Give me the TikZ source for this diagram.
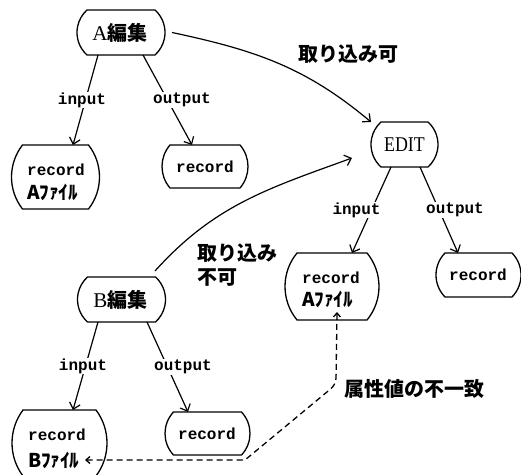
\documentclass[tikz,border=0pt]{standalone}
\usepackage{fontspec}
\usepackage{graphicx}
\setmainfont{Liberation Serif}
\newfontfamily\monof{Liberation Mono}
\newfontfamily\jpf{Noto Sans CJK JP}
\usetikzlibrary{arrows.meta}
\tikzset{
 boxarea/.style={draw=none, inner sep=0pt, outer sep=0pt},
 boxline/.style={line width=1.3pt},
 monotxt/.style={font=\monof\bfseries\fontsize{16}{18}\selectfont, inner sep=0pt},
 hwtxt/.style={font=\jpf\bfseries\fontsize{19}{21}\selectfont, inner sep=0pt},
 jptxt/.style={font=\jpf\bfseries\fontsize{20}{24}\selectfont, inner sep=0pt},
 edgelab/.style={monotxt, fill=white, inner sep=1pt},
 conn/.style={line width=1.2pt, -{Straight Barb[length=6pt,width=11pt]}},
 dconn/.style={line width=1.3pt, dash pattern=on 6pt off 4pt,
   {Straight Barb[length=4pt,width=7pt]}-{Straight Barb[length=4pt,width=7pt]}, rounded corners=3pt},
}
\newcommand\bulgebox[6]{%
  \pgfmathsetmacro\bbR{(#5*#5+#6*#6)/(2*#6)}%
  \pgfmathsetmacro\bbT{asin(#5/\bbR)}%
  \node[boxarea, minimum width={2*(#4+#6)}, minimum height={2*#5}] (#1) at (#2,#3) {};
  \draw[boxline] (#2-#4,#3+#5) -- (#2+#4,#3+#5)
     arc[start angle=\bbT, end angle=-\bbT, radius=\bbR]
     -- (#2-#4,#3-#5)
     arc[start angle=180+\bbT, end angle=180-\bbT, radius=\bbR] -- cycle;
}
\begin{document}
\begin{tikzpicture}[x=1pt,y=1pt]
\fill[white] (0,0) rectangle (521,474);
\useasboundingbox (0,0) rectangle (521,474);

% boxes
\bulgebox{na}{121}{441.5}{34}{22.5}{10}
\node[jptxt] (na1) at (120,441) {{\rmfamily\mdseries\fontsize{21}{22}\selectfont A}編集};

\bulgebox{ra}{55.5}{297}{33}{32}{11}
\node[monotxt, anchor=west] (ra1) at (27,304) {record};
\node[hwtxt, anchor=west] (ra2) at (27,282) {Aﾌｧｲﾙ};

\bulgebox{rao}{205}{307.5}{35}{21.5}{8}
\node[monotxt] (rao1) at (205,307) {record};

\bulgebox{edit}{404.5}{329.5}{23.5}{22.5}{10}
\node[inner sep=0pt, font=\fontsize{21}{22}\selectfont] (edit1) at (404.5,329.5) {\scalebox{0.85}[1]{EDIT}};

\bulgebox{rei}{332}{187.5}{35}{33.5}{12}
\node[monotxt, anchor=west] (rei1) at (302,196) {record};
\node[hwtxt, anchor=west] (rei2) at (302,175) {Aﾌｧｲﾙ};

\bulgebox{reo}{478.5}{199}{33.5}{22}{9}
\node[monotxt] (reo1) at (478,199) {record};

\bulgebox{nb}{121.5}{174.5}{34}{22.5}{10}
\node[jptxt] (nb1) at (120.5,174) {{\rmfamily\mdseries\fontsize{21}{22}\selectfont B}編集};

\bulgebox{rb}{59.5}{31}{36.5}{33}{11}
\node[monotxt, anchor=west] (rb1) at (28,39) {record};
\node[hwtxt, anchor=west] (rb2) at (28,14) {Bﾌｧｲﾙ};

\bulgebox{rbo}{207.5}{40.5}{34}{21.5}{8.5}
\node[monotxt] (rbo1) at (207,40) {record};

% tree connectors
\draw[conn] ([xshift=-23]na.south) -- node[edgelab, xshift=-3.5]{input} ([xshift=17.5]ra.north);
\draw[conn] ([xshift=22]na.south) -- node[edgelab, xshift=14.5]{output} ([xshift=-13]rao.north);
\draw[conn] ([xshift=-13.5]edit.south) -- node[edgelab, xshift=-15]{input} ([xshift=20]rei.north);
\draw[conn] ([xshift=15.5]edit.south) -- node[edgelab, xshift=16]{output} ([xshift=-20.5]reo.north);
\draw[conn] ([xshift=-23.5]nb.south) -- node[edgelab, xshift=-2.5]{input} ([xshift=13.5]rb.north);
\draw[conn] ([xshift=25.5]nb.south) -- node[edgelab, xshift=15.5]{output} ([xshift=-19.5]rbo.north);

% import arrows
\draw[conn] ([xshift=7]na.east) to[out=-12,in=140] (edit.north west);
\node[jptxt] (l1) at (348,420) {取り込み可};
\draw[conn] ([xshift=33.5,yshift=6]nb.north) to[out=48,in=200] ([xshift=-19,yshift=-13.5]edit.west);
\node[jptxt, anchor=west, align=left] (l2) at (197,209) {取り込み\\不可};

% mismatch
\coordinate (dA) at (337,162);
\coordinate (dB) at (85,14);
\draw[dconn] (dB) -- (245,14) -- (333,87) -- (336,93) -- (dA);
\node[jptxt] (l3) at (414,85) {属性値の不一致};
\end{tikzpicture}
\end{document}
